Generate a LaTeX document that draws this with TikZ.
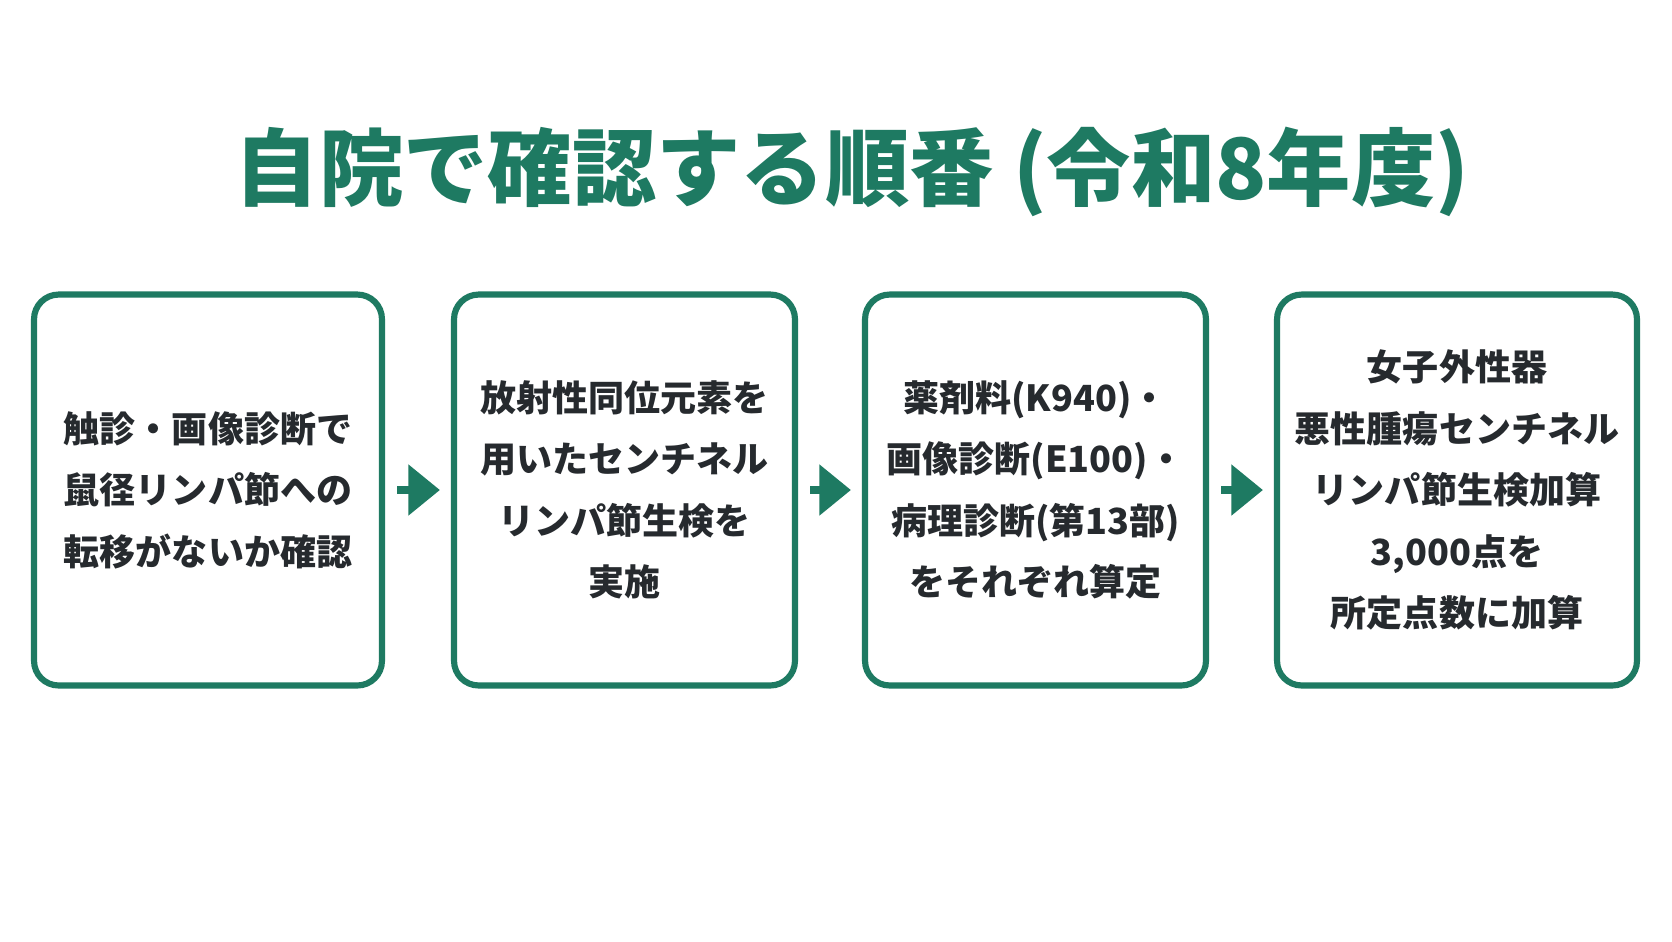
\documentclass[tikz,border=0pt]{standalone}
\usepackage{fontspec}
\setmainfont{Noto Sans CJK JP}
\usetikzlibrary{positioning,arrows.meta}
\definecolor{flowgreen}{HTML}{1E7A62}
\definecolor{inktext}{HTML}{262A2E}
\tikzset{
    stepbox/.style={draw=flowgreen, line width=3.5pt, rounded corners=14pt, fill=white,
        minimum width=6.96cm, minimum height=7.82cm, align=center,
        text=inktext, font=\bfseries\fontsize{20.5}{35}\selectfont, inner sep=0pt},
    go/.style={draw=flowgreen, line width=5pt, -{Triangle[length=18pt,width=28pt]},
        shorten <=0.24cm, shorten >=0.22cm}
}
\begin{document}
\begin{tikzpicture}[x=0.02cm,y=-0.02cm]
        \useasboundingbox[fill=white] (0,0) rectangle (1672,941);
        \node[text=flowgreen, font=\bfseries\fontsize{48}{58}\selectfont] (title) at (852,172)
            {自院で確認する順番 (令和8年度)};

        \node[stepbox] (s1) at (208,490) {触診・画像診断で\\鼠径リンパ節への\\転移がないか確認};
        \node[stepbox, minimum width=6.82cm] (s2) at (624.5,490) {放射性同位元素を\\用いたセンチネル\\リンパ節生検を\\実施};
        \node[stepbox, minimum width=6.82cm] (s3) at (1035.5,490) {薬剤料(K940)・\\画像診断(E100)・\\病理診断(第13部)\\をそれぞれ算定};
        \node[stepbox, minimum width=7.2cm] (s4) at (1457,490) {女子外性器\\悪性腫瘍センチネル\\リンパ節生検加算\\3,000点を\\所定点数に加算};

        \foreach \a/\b in {s1/s2, s2/s3, s3/s4} {
            \draw[go] (\a.east) -- (\b.west);
        }
\end{tikzpicture}
\end{document}
